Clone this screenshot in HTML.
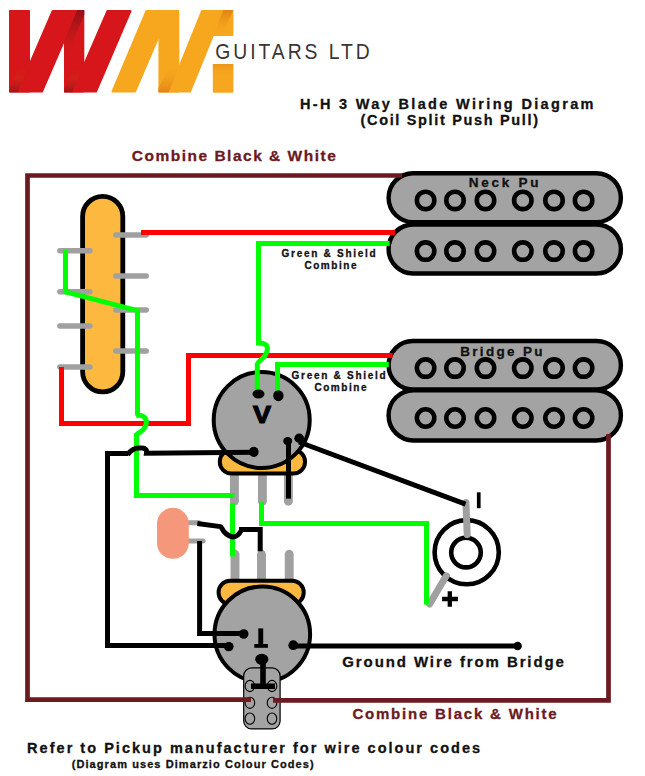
<!DOCTYPE html>
<html><head><meta charset="utf-8">
<style>
html,body{margin:0;padding:0;background:#fff;}
body{width:645px;height:776px;overflow:hidden;position:relative;}
svg{position:absolute;left:0;top:0;display:block;}
text{font-family:"Liberation Sans",sans-serif;font-weight:bold;}
</style></head><body>
<svg width="645" height="776" viewBox="0 0 645 776">
<rect x="0" y="0" width="645" height="776" fill="#fff"/>

<!-- LOGO -->
<defs>
  <linearGradient id="rfoldT" x1="0" y1="0" x2="0" y2="1">
    <stop offset="0" stop-color="#8f1016" stop-opacity="0.95"/>
    <stop offset="0.6" stop-color="#c41a1a" stop-opacity="0.6"/>
    <stop offset="1" stop-color="#d6161a" stop-opacity="0"/>
  </linearGradient>
  <linearGradient id="rfoldB" x1="0" y1="1" x2="0" y2="0">
    <stop offset="0" stop-color="#a01318" stop-opacity="0.9"/>
    <stop offset="0.5" stop-color="#d0261a" stop-opacity="0.6"/>
    <stop offset="1" stop-color="#d6161a" stop-opacity="0"/>
  </linearGradient>
  <linearGradient id="ofoldT" x1="0" y1="0" x2="0" y2="1">
    <stop offset="0" stop-color="#e07d14" stop-opacity="0.9"/>
    <stop offset="1" stop-color="#f6a71e" stop-opacity="0"/>
  </linearGradient>
  <linearGradient id="ofoldB" x1="0" y1="1" x2="0" y2="0">
    <stop offset="0" stop-color="#e27e15" stop-opacity="0.9"/>
    <stop offset="1" stop-color="#f6a71e" stop-opacity="0"/>
  </linearGradient>
</defs>
<g id="logo" stroke-linejoin="round">
  <g fill="#d6161a" stroke="#d6161a" stroke-width="2">
    <polygon points="10,11 29,11 29,91.5 10,91.5"/>
    <polygon points="52.7,11 76.8,11 42,91.5 18,91.5"/>
    <polygon points="65,11 83.3,11 83.3,91.5 65,91.5"/>
    <polygon points="107.5,11 130.5,11 96,91.5 72.5,91.5"/>
  </g>
  <polygon fill="url(#rfoldT)" points="77.3,10 84.3,10 84.3,14.7 64,63 64,41.5"/>
  <polygon fill="url(#rfoldB)" points="30,62 17.6,92.5 9.3,92.5 9.3,90 21,62"/>
  <polygon fill="url(#rfoldB)" points="84.3,63.8 72.2,92.5 64,92.5 64,90 75.1,63.8"/>
  <g fill="#f6a71e" stroke="#f6a71e" stroke-width="2">
    <polygon points="146.5,11 169.5,11 135,91.5 112.5,91.5"/>
    <polygon points="159.4,11 178.3,11 178.3,91.5 159.4,91.5"/>
    <polygon points="202.1,11 222.8,11 190,91.5 169.5,91.5"/>
    <polygon points="213.8,11 232.4,11 232.4,35 213.8,35"/>
    <polygon points="213.8,65 232.4,65 232.4,91.8 213.8,91.8"/>
  </g>
  <polygon fill="url(#ofoldT)" points="223.3,10 233.4,10 222,36 213,36"/>
  <polygon fill="url(#ofoldB)" points="179.3,65.5 168.6,92.5 158.4,92.5 158.4,88 170.3,65.5"/>
  <rect x="212.8" y="64" width="20.6" height="12" fill="url(#ofoldT)" opacity="0.5"/>
</g>
<text transform="translate(215.3,58.5) scale(0.86,1)" x="0" y="0" font-size="22.5" textLength="179.5" lengthAdjust="spacing" fill="#3b3431" style="font-weight:normal">GUITARS LTD</text>

<!-- TITLE -->
<text transform="translate(299.9,109.3) scale(1.0,1)" x="0" y="0" font-size="14.5" textLength="293.6" lengthAdjust="spacing" stroke-width="0.3" fill="#111" stroke="#111">H-H 3 Way Blade Wiring Diagram</text>
<text transform="translate(360.5,125.3) scale(1.0,1)" x="0" y="0" font-size="14.5" textLength="177.5" lengthAdjust="spacing" stroke-width="0.3" fill="#111" stroke="#111">(Coil Split Push Pull)</text>

<text transform="translate(131.8,161.4) scale(1.0,1)" x="0" y="0" font-size="15.5" textLength="204.0" lengthAdjust="spacing" stroke-width="0.3" fill="#6b1a1f" stroke="#6b1a1f">Combine Black &amp; White</text>

<!-- PICKUPS -->
<g fill="#a3a3a3" stroke="#000" stroke-width="4.4">
  <rect x="388.6" y="224.5" width="232.3" height="49" rx="24.5"/>
  <rect x="388.6" y="173.2" width="232.3" height="49" rx="24.5"/>
  <rect x="388.6" y="390.2" width="232.3" height="50.3" rx="25"/>
  <rect x="388.6" y="341" width="232.3" height="48.5" rx="24.2"/>
</g>
<g fill="none" stroke="#000" stroke-width="4.6">
  <circle cx="425.6" cy="200.4" r="8.7"/><circle cx="455" cy="200.4" r="8.7"/><circle cx="485.5" cy="200.4" r="8.7"/>
  <circle cx="522.8" cy="200.4" r="8.7"/><circle cx="554" cy="200.4" r="8.7"/><circle cx="583.6" cy="200.4" r="8.7"/>
  <circle cx="425.6" cy="251.1" r="8.7"/><circle cx="455" cy="251.1" r="8.7"/><circle cx="485.5" cy="251.1" r="8.7"/>
  <circle cx="522.8" cy="251.1" r="8.7"/><circle cx="554" cy="251.1" r="8.7"/><circle cx="583.6" cy="251.1" r="8.7"/>
  <circle cx="425.6" cy="368.1" r="8.7"/><circle cx="455" cy="368.1" r="8.7"/><circle cx="485.5" cy="368.1" r="8.7"/>
  <circle cx="522.8" cy="368.1" r="8.7"/><circle cx="554" cy="368.1" r="8.7"/><circle cx="583.6" cy="368.1" r="8.7"/>
  <circle cx="425.6" cy="418" r="8.7"/><circle cx="455" cy="418" r="8.7"/><circle cx="485.5" cy="418" r="8.7"/>
  <circle cx="522.8" cy="418" r="8.7"/><circle cx="554" cy="418" r="8.7"/><circle cx="583.6" cy="418" r="8.7"/>
</g>
<text transform="translate(468.8,186.7) scale(1.0,1)" x="0" y="0" font-size="13.5" textLength="69.6" lengthAdjust="spacing" stroke-width="0.3" fill="#111" stroke="#111">Neck Pu</text>
<text transform="translate(460.2,356.4) scale(1.0,1)" x="0" y="0" font-size="13.5" textLength="82.3" lengthAdjust="spacing" stroke-width="0.3" fill="#111" stroke="#111">Bridge Pu</text>

<!-- BLADE SWITCH -->
<rect x="82.6" y="196.3" width="40.2" height="195.6" rx="20.1" fill="#fdb83f" stroke="#000" stroke-width="4.8"/>
<g stroke="#a0a0a0" stroke-width="5.5" stroke-linecap="round">
  <line x1="115.8" y1="235" x2="146.2" y2="235"/>
  <line x1="115.8" y1="275.9" x2="146.2" y2="275.9"/>
  <line x1="115.8" y1="310.1" x2="146.2" y2="310.1"/>
  <line x1="115.8" y1="351" x2="146.2" y2="351"/>
  <line x1="59.9" y1="250.8" x2="89.9" y2="250.8"/>
  <line x1="59.9" y1="291.8" x2="89.9" y2="291.8"/>
  <line x1="59.9" y1="325.9" x2="89.9" y2="325.9"/>
  <line x1="59.9" y1="366.9" x2="89.9" y2="366.9"/>
</g>

<!-- WIRES: red -->
<g fill="none" stroke="#ff0000" stroke-width="5" stroke-linejoin="miter">
  <path d="M141,232.5 H395"/>
  <path d="M61.5,367 V423.5 H188.5 V355.5 H392.6"/>
</g>

<!-- VOLUME POT -->
<g id="vol">
  <g stroke="#a0a0a0" stroke-width="8.9" stroke-linecap="round">
    <line x1="234.4" y1="468" x2="234.4" y2="501.2"/>
    <line x1="262.4" y1="468" x2="262.4" y2="501.2"/>
    <line x1="288.4" y1="468" x2="288.4" y2="501.2"/>
  </g>
  <rect x="219.8" y="450" width="85.2" height="23.5" rx="11.5" fill="#fdb83f" stroke="#000" stroke-width="4"/>
  <circle cx="261.7" cy="420" r="48" fill="#a3a3a3" stroke="#000" stroke-width="4"/>
  <text x="262" y="423.3" font-size="24" text-anchor="middle" fill="#000" stroke="#000" stroke-width="1.2" textLength="18" lengthAdjust="spacingAndGlyphs">V</text>
</g>

<!-- TONE POT -->
<g id="tone">
  <g stroke="#a0a0a0" stroke-width="8.9" stroke-linecap="round">
    <line x1="235" y1="554.3" x2="235" y2="585"/>
    <line x1="261.5" y1="554.3" x2="261.5" y2="585"/>
    <line x1="289.2" y1="554.3" x2="289.2" y2="585"/>
  </g>
  <rect x="218.6" y="580.8" width="85.1" height="23.5" rx="11.5" fill="#fdb83f" stroke="#000" stroke-width="4"/>
  <circle cx="262.3" cy="634.3" r="47.8" fill="#a3a3a3" stroke="#000" stroke-width="4"/>
  <rect x="258.3" y="628.4" width="4.9" height="17" fill="#000"/>
  <rect x="254.3" y="644" width="13.6" height="3.8" fill="#000"/>
</g>

<!-- PUSH PULL SWITCH -->
<g id="pp">
  <rect x="243.7" y="667.9" width="36.4" height="61" rx="8" fill="#a3a3a3" stroke="#000" stroke-width="1.2"/>
  <g fill="none" stroke="#000" stroke-width="1.1">
    <ellipse cx="249.9" cy="686" rx="4.8" ry="5.6"/><ellipse cx="272" cy="686" rx="4.8" ry="5.6"/>
    <ellipse cx="249.9" cy="702.8" rx="4.8" ry="5.6"/><ellipse cx="272" cy="702.8" rx="4.8" ry="5.6"/>
    <ellipse cx="249.9" cy="718.6" rx="4.8" ry="5.6"/><ellipse cx="272" cy="718.6" rx="4.8" ry="5.6"/>
  </g>
</g>

<!-- CAP -->
<g id="cap">
  <g stroke="#a0a0a0" stroke-width="5" stroke-linecap="round">
    <line x1="188" y1="522.8" x2="199" y2="522.8"/>
    <line x1="188" y1="541" x2="203" y2="541"/>
  </g>
  <rect x="157" y="507.8" width="31.8" height="51" rx="15.9" fill="#f4977a"/>
</g>

<!-- JACK -->
<g id="jack">
  <circle cx="466.7" cy="552.2" r="32.1" fill="none" stroke="#000" stroke-width="4.6"/>
  <circle cx="466" cy="552.6" r="14.8" fill="none" stroke="#000" stroke-width="4.6"/>
  <g stroke="#a0a0a0" stroke-width="7" stroke-linecap="round">
    <line x1="465.9" y1="502.5" x2="467.2" y2="534.5"/>
    <line x1="446.3" y1="575.8" x2="429.6" y2="604"/>
  </g>
  <rect x="476.9" y="492.3" width="3.7" height="15.9" fill="#000"/>
  <path d="M449.8,591.3 V606.7 M442.1,599 H457.9" stroke="#000" stroke-width="4.3"/>
</g>

<!-- WIRES: green -->
<g fill="none" stroke="#00ff00" stroke-width="5" stroke-linejoin="miter">
  <path d="M65.5,250 V291.8 L137.5,310.6 V415.5 M136,415.5 C144,414 147.5,419 146,424.5 C145,429 141,432 136.5,434.5 M136.5,433 V495.5 H234.4"/>
  <path d="M389.7,243.5 H258.5 V343 C270,343 268,350 265.5,355 C262,360 257.5,362 257.3,364 V394"/>
  <path d="M388.8,364.5 H277.5 V396"/>
  <path d="M232.5,503 V556.4"/>
  <path d="M261.5,502.2 V523.5 H426.5 V604.5"/>
</g>

<!-- WIRES: black -->
<g fill="none" stroke="#000" stroke-width="5" stroke-linejoin="miter">
  <path d="M254,452.2 L146.5,453.3 C147,450 146,448 142,448 L139,448 C133,448 130,451.2 127.5,454.7 M128,453.5 H107.5 V645.5 H228.7"/>
  <path d="M299,442 L465.5,504.2"/>
  <path d="M288.5,441 V498.6"/>
  <path d="M197.3,523.6 L220.5,526.6 C222.5,527 222,534 232,536.8 C237,537.5 240,533 241.5,530 M239,529.5 H260.2 V551.2"/>
  <path d="M199.6,541 V633.5 H243.7"/>
  <path d="M293,646 H517.7"/>
  <path d="M263,659 V686 M251,686.2 H275" stroke-width="5.6"/>
</g>
<g fill="#000">
  <ellipse cx="258.5" cy="394" rx="6" ry="4.5"/>
  <ellipse cx="278.4" cy="395.7" rx="5.2" ry="5.5"/>
  <ellipse cx="253.8" cy="451.9" rx="4.8" ry="5.1"/>
  <ellipse cx="287.7" cy="441.1" rx="4.5" ry="4.1"/>
  <ellipse cx="299.2" cy="438.3" rx="4.9" ry="4.7"/>
  <circle cx="243.7" cy="634" r="4.8"/>
  <ellipse cx="228.7" cy="646.6" rx="4.9" ry="4.7"/>
  <circle cx="293.3" cy="645.2" r="4.9"/>
  <ellipse cx="261.8" cy="659.3" rx="6.6" ry="5.6"/>
  <circle cx="517.7" cy="646" r="4.2"/>
</g>
<!-- BORDER (dark red) -->
<g fill="none" stroke="#6b1a1f" stroke-width="4.7">
  <path d="M402,175.5 H27.5 V699.6 H251"/>
  <path d="M273,700.4 H608.5 V434"/>
</g>

<!-- LABELS -->
<text transform="translate(281.5,257.1) scale(1.0,1)" x="0" y="0" font-size="10" textLength="94.2" lengthAdjust="spacing" stroke-width="0.3" fill="#111" stroke="#111">Green &amp; Shield</text>
<text transform="translate(304.4,268.8) scale(1.0,1)" x="0" y="0" font-size="10" textLength="52.1" lengthAdjust="spacing" stroke-width="0.3" fill="#111" stroke="#111">Combine</text>
<text transform="translate(291.5,378.8) scale(1.0,1)" x="0" y="0" font-size="10" textLength="94.2" lengthAdjust="spacing" stroke-width="0.3" fill="#111" stroke="#111">Green &amp; Shield</text>
<text transform="translate(314.4,390.7) scale(1.0,1)" x="0" y="0" font-size="10" textLength="52.1" lengthAdjust="spacing" stroke-width="0.3" fill="#111" stroke="#111">Combine</text>
<text transform="translate(342.3,667.2) scale(1.0,1)" x="0" y="0" font-size="15" textLength="221.6" lengthAdjust="spacing" stroke-width="0.3" fill="#111" stroke="#111">Ground Wire from Bridge</text>
<text transform="translate(352.4,719.0) scale(1.0,1)" x="0" y="0" font-size="15" textLength="204.3" lengthAdjust="spacing" stroke-width="0.3" fill="#6b1a1f" stroke="#6b1a1f">Combine Black &amp; White</text>
<text transform="translate(27.1,753.3) scale(1.0,1)" x="0" y="0" font-size="14.5" textLength="453.0" lengthAdjust="spacing" stroke-width="0.3" fill="#111" stroke="#111">Refer to Pickup manufacturer for wire colour codes</text>
<text transform="translate(71.7,767.6) scale(1.0,1)" x="0" y="0" font-size="11" textLength="242.0" lengthAdjust="spacing" stroke-width="0.3" fill="#111" stroke="#111">(Diagram uses Dimarzio Colour Codes)</text>

</svg>
</body></html>
